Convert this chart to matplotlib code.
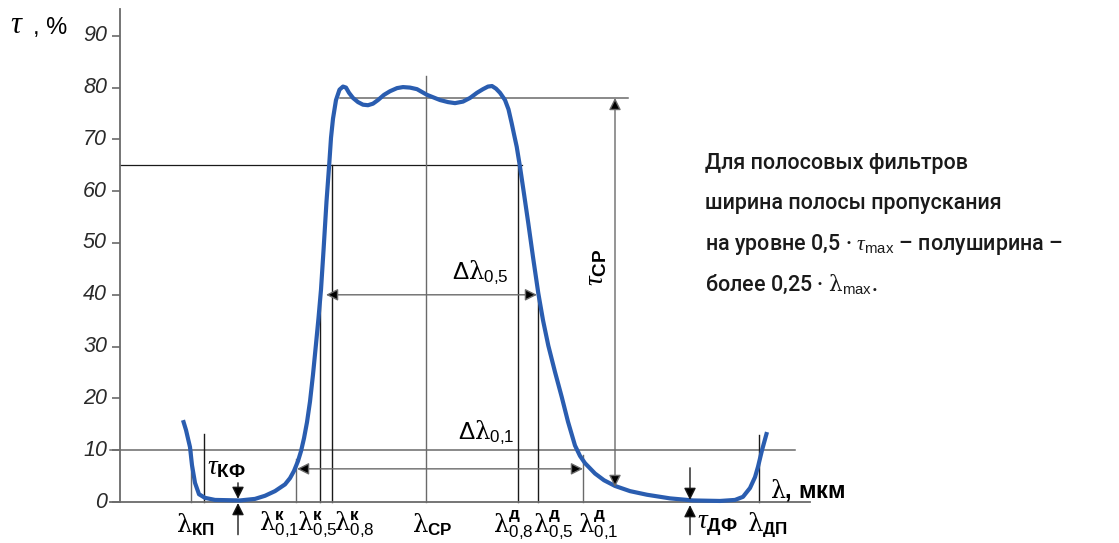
import matplotlib.pyplot as plt

plt.rcParams['mathtext.fontset'] = 'custom'
plt.rcParams['mathtext.rm'] = 'Liberation Sans'
plt.rcParams['mathtext.it'] = 'Liberation Serif:italic'
plt.rcParams['mathtext.sf'] = 'DejaVu Serif'
plt.rcParams['mathtext.bf'] = 'Liberation Sans:bold'

# transmission curve of the band filter (lambda in drawing units, tau in %)
lam = [183, 186, 190, 192, 195, 199, 205, 215, 240, 255, 265, 275, 285, 290, 294,
       298, 301, 304, 307, 310, 313, 316, 318.5, 321, 323.5, 326.5, 329.3, 331, 333, 336,
       339.5, 343, 346, 349, 353, 358, 363, 368, 373, 378, 384, 390, 397, 403, 410,
       417, 427, 440, 448, 455, 463, 470, 477, 483, 488, 492, 496, 500, 505, 508.5,
       511.7, 514, 516.7, 520, 524, 528.3, 533, 538.3, 543, 548.3, 555, 561.7, 568, 575, 580,
       585, 595, 604, 615, 630, 647, 670, 693, 720, 735, 743, 750, 755, 758, 762,
       767]
tau = [15.8, 13.9, 10.6, 7.1, 3.7, 1.5, 0.8, 0.4, 0.3, 0.6, 1.2, 2.1, 3.4, 4.6, 6.0,
       7.9, 9.8, 12.3, 15.4, 19.4, 24.6, 30.5, 35.5, 41.0, 48.5, 58.0, 65.4, 70.3, 74.0, 77.6,
       79.6, 80.2, 80.0, 79.0, 78.0, 77.2, 76.7, 76.6, 76.9, 77.6, 78.6, 79.3, 79.9, 80.1, 80.0,
       79.7, 78.6, 77.6, 77.2, 77.0, 77.3, 78.0, 79.0, 79.7, 80.2, 80.3, 79.8, 79.0, 77.6, 75.8,
       73.1, 71.0, 68.6, 64.7, 59.5, 53.8, 47.3, 40.3, 35.1, 30.2, 25.1, 20.3, 15.5, 10.9, 8.9,
       7.5, 5.5, 4.2, 3.1, 2.1, 1.4, 0.7, 0.3, 0.2, 0.4, 1.0, 2.7, 4.8, 6.8, 10.0,
       13.5]

# characteristic wavelengths
lam_kp, lam_dp = 191, 759
lam_k01, lam_k05, lam_k08 = 296, 320, 332
lam_d08, lam_d05, lam_d01 = 518, 538, 583
lam_cp = 426
lam_kf, lam_df = 238, 690
lam_tcp = 615

# characteristic levels, %
tau_cp = 78.0
tau_08 = 65.0
tau_05 = 40.0
tau_01 = 10.0

yticks = list(range(0, 100, 10))

note = ['Для полосовых фильтров',
        'ширина полосы пропускания',
        'на уровне 0,5 · $\\tau_{\\mathrm{max}}$ – полуширина –',
        'более 0,25 · $\\mathsf{\\lambda}_{\\mathrm{max}}$.']

GRAY = '#6a6a6a'
DARK = '#1a1a1a'
BLUE = '#2a5db0'

fig = plt.figure(figsize=(11.19, 5.43), dpi=100)
ax = fig.add_axes([0, 0, 1, 1])
ax.set_xlim(0, 1119)
ax.set_ylim(-41 / 5.18, 502 / 5.18)

for s in ['top', 'right']:
    ax.spines[s].set_visible(False)
ax.spines['left'].set_position(('data', 120))
ax.spines['left'].set_bounds(0, 95.2)
ax.spines['bottom'].set_position(('data', 0))
ax.spines['bottom'].set_bounds(110, 810)
for s in ['left', 'bottom']:
    ax.spines[s].set_color(GRAY)
    ax.spines[s].set_linewidth(1.3)
ax.set_xticks([])
ax.set_yticks(yticks)
ax.tick_params(axis='y', direction='out', length=6, width=1.2, color=GRAY,
               labelleft=False)
# italic tick labels
for v in yticks:
    ax.text(107, v, str(v), ha='right', va='center', fontsize=15.5,
            family='Liberation Sans', fontstyle='italic', color='#2a2a2a')

# horizontal guide lines
ax.plot([110, 795], [tau_01, tau_01], color=GRAY, lw=1.1)
ax.plot([120, 522], [tau_08, tau_08], color=DARK, lw=0.9)
ax.plot([340, 628], [tau_cp, tau_cp], color=GRAY, lw=1.1)

# vertical guide lines
ax.plot([lam_kp, lam_kp], [0, tau_01], color=GRAY, lw=1)
ax.plot([204, 204], [0, 13.1], color=DARK, lw=1)
ax.plot([lam_k01, lam_k01], [0, 8.3], color=GRAY, lw=1)
ax.plot([lam_k05, lam_k05], [0, tau_05], color=DARK, lw=1)
ax.plot([lam_k08, lam_k08], [0, tau_08], color=DARK, lw=1)
ax.plot([lam_cp, lam_cp], [0, 82.2], color=GRAY, lw=1)
ax.plot([lam_d08, lam_d08], [0, tau_08], color=DARK, lw=1)
ax.plot([lam_d05, lam_d05], [0, tau_05], color=DARK, lw=1)
ax.plot([lam_d01, lam_d01], [0, 9.1], color=GRAY, lw=1)
ax.plot([lam_dp, lam_dp], [0, 12.9], color=DARK, lw=1)

# transmission curve
ax.plot(lam, tau, color=BLUE, lw=3, solid_capstyle='butt', solid_joinstyle='round', zorder=5)


def arrow(x0, y0, x1, y1, style='-|>', color=GRAY):
    ax.annotate('', xy=(x1, y1), xytext=(x0, y0),
                arrowprops=dict(arrowstyle=style, color=color, lw=1,
                                shrinkA=0, shrinkB=0, mutation_scale=18,
                                fc='black', ec=color), zorder=6)


arrow(297, 6.4, lam_d01, 6.4, '<|-|>')
arrow(326, tau_05, 537, tau_05, '<|-|>')
arrow(lam_tcp, 2.9, lam_tcp, tau_cp, '<|-|>')
arrow(lam_kf, 3.7, lam_kf, 0.6, color=DARK)
arrow(lam_kf, -6.3, lam_kf, -0.2, color=DARK)
arrow(lam_df, 6.6, lam_df, 0.4, color=DARK)
arrow(lam_df, -6.3, lam_df, -0.6, color=DARK)

# labels under the axis
ylab = -4.4
lfs = 17.5
tfs = 19.5
lam_sym = r'\mathsf{\lambda}'
below = [(lam_kp + 5, lam_sym + r'_{\mathbf{КП}}'),
         (279, lam_sym + r'^{\mathbf{к}}_{0{,}1}'),
         (317, lam_sym + r'^{\mathbf{к}}_{0{,}5}'),
         (354, lam_sym + r'^{\mathbf{к}}_{0{,}8}'),
         (lam_cp + 6, lam_sym + r'_{\mathbf{СР}}'),
         (513, lam_sym + r'^{\mathbf{д}}_{0{,}8}'),
         (553, lam_sym + r'^{\mathbf{д}}_{0{,}5}'),
         (598, lam_sym + r'^{\mathbf{д}}_{0{,}1}'),
         (lam_dp + 8, lam_sym + r'_{\mathbf{ДП}}')]
for x, s in below:
    ax.text(x, ylab, '$' + s + '$', fontsize=lfs, ha='center', va='center')
ax.text(lam_df + 7, ylab, r'$\tau_{\mathbf{ДФ}}$', fontsize=tfs, ha='left', va='center')

# labels in the plot
ax.text(207, 6.8, r'$\tau_{\mathbf{КФ}}$', fontsize=tfs, ha='left', va='center')
ax.text(486, 13.4, r'$\Delta' + lam_sym + r'_{0{,}1}$', fontsize=lfs, ha='center', va='center')
ax.text(480, 44.2, r'$\Delta' + lam_sym + r'_{0{,}5}$', fontsize=lfs, ha='center', va='center')
ax.text(596, 45.3, r'$\tau_{\mathbf{СР}}$', fontsize=tfs, ha='center', va='center', rotation=90)
ax.text(770, 2.3, '$' + lam_sym + '$, мкм', fontsize=17, ha='left', va='center',
        fontweight='bold', family='Liberation Sans')
ax.text(10, 92.2, r'$\tau$', fontsize=22, ha='left', va='center')
ax.text(33, 91.6, ', %', fontsize=17, ha='left', va='center', family='Liberation Sans')

# note
for i, line in enumerate(note):
    ax.text(705, 65.4 - i * 7.8, line, fontsize=15.5, ha='left', va='center',
            family='Roboto', fontweight='medium', color='#1a1a1a')

plt.savefig('out.png', dpi=100)
